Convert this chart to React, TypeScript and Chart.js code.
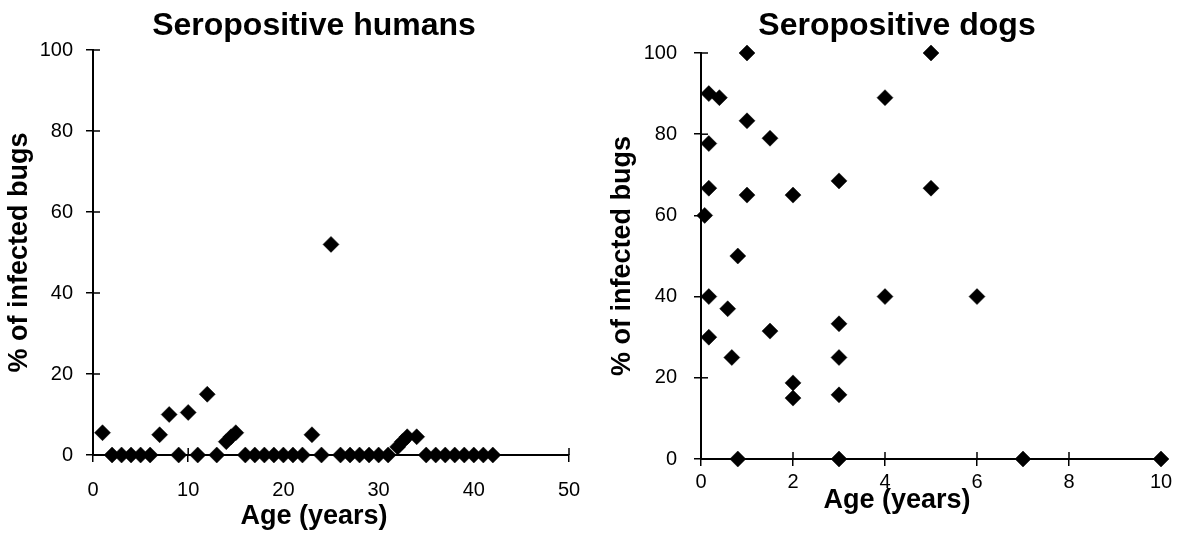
import React, { useEffect, useRef } from "react";
import { Chart, registerables } from "chart.js";

Chart.register(...registerables);

// ---- Data ----
const humanAges = [1, 2, 3, 4, 5, 6, 7, 8, 9, 10, 11, 12, 13, 14, 14.5, 15, 16, 17, 18, 19, 20, 21, 22, 23, 24, 25, 26, 27, 28, 29, 30, 31, 32, 32.5, 33, 34, 35, 36, 37, 38, 39, 40, 41, 42];
const humanPct = [5.5, 0, 0, 0, 0, 0, 5, 10, 0, 10.5, 0, 15, 0, 3.3, 4.5, 5.5, 0, 0, 0, 0, 0, 0, 0, 5, 0, 52, 0, 0, 0, 0, 0, 0, 2, 3.3, 4.5, 4.5, 0, 0, 0, 0, 0, 0, 0, 0];

const dogAges = [0.17, 0.4, 1, 5, 4, 1, 1.5, 0.17, 0.17, 1, 2, 3, 5, 0.08, 0.8, 0.17, 4, 6, 0.58, 0.17, 1.5, 3, 0.67, 3, 2, 2, 3, 0.8, 3, 7, 10];
const dogPct = [90, 89, 100, 100, 89, 83.3, 79, 77.7, 66.7, 65, 65, 68.5, 66.7, 60, 50, 40, 40, 40, 37, 30, 31.5, 33.3, 25, 25, 18.75, 15, 15.8, 0, 0, 0, 0];

const humanXTicks = [0, 10, 20, 30, 40, 50];
const dogXTicks = [0, 2, 4, 6, 8, 10];
const yTicks = [0, 20, 40, 60, 80, 100];

const FONT = '"Liberation Sans", Arial, Helvetica, sans-serif';

const innerTicks = {
  id: "innerTicks",
  afterDatasetsDraw(chart: any) {
    const { ctx, chartArea } = chart;
    ctx.save();
    ctx.strokeStyle = "#000";
    ctx.lineWidth = 1.5;
    const xs = chart.scales.x;
    xs.ticks.forEach((_: any, i: number) => {
      const px = xs.getPixelForTick(i);
      ctx.beginPath();
      ctx.moveTo(px, chartArea.bottom);
      ctx.lineTo(px, chartArea.bottom - 7);
      ctx.stroke();
    });
    const ys = chart.scales.y;
    ys.ticks.forEach((_: any, i: number) => {
      const py = ys.getPixelForTick(i);
      ctx.beginPath();
      ctx.moveTo(chartArea.left, py);
      ctx.lineTo(chartArea.left + 7, py);
      ctx.stroke();
    });
    ctx.restore();
  },
};

interface PanelProps {
  left: number;
  width: number;
  title: string;
  ages: number[];
  pct: number[];
  xTicks: number[];
  yAxisWidth: number;
  rightSpace: number;
  titlePad: { top: number; bottom: number };
  subPad: { top: number; bottom: number };
  subLineHeight: number;
  xAxisHeight: number;
  xTickPad: number;
  yTickPad: number;
  yTitlePad: number;
}

function Panel(p: PanelProps) {
  const ref = useRef<HTMLCanvasElement | null>(null);
  useEffect(() => {
    if (!ref.current) return;
    const pts = p.ages.map((a, i) => ({ x: a, y: p.pct[i] }));
    const chart = new Chart(ref.current, {
      type: "scatter",
      data: {
        datasets: [
          {
            data: pts,
            clip: false,
            pointStyle: "rectRot",
            pointRadius: 8,
            pointBackgroundColor: "#000",
            pointBorderColor: "#000",
            pointBorderWidth: 0.5,
            showLine: false,
          },
        ],
      },
      options: {
        animation: false,
        responsive: false,
        devicePixelRatio: 1,
        layout: { padding: 0 },
        plugins: {
          legend: { display: false },
          tooltip: { enabled: false },
          title: {
            display: true,
            text: p.title,
            color: "#000",
            font: { family: FONT, size: 32, weight: "bold", lineHeight: 1.2 },
            padding: p.titlePad,
          },
          subtitle: {
            display: true,
            position: "bottom",
            text: "Age (years)",
            color: "#000",
            font: { family: FONT, size: 27, weight: "bold", lineHeight: p.subLineHeight },
            padding: p.subPad,
          },
        },
        scales: {
          x: {
            type: "linear",
            min: p.xTicks[0],
            max: p.xTicks[p.xTicks.length - 1],
            afterBuildTicks: (s: any) => {
              s.ticks = p.xTicks.map((v) => ({ value: v }));
            },
            afterFit: (s: any) => {
              s.height = p.xAxisHeight;
            },
            ticks: {
              color: "#000",
              padding: p.xTickPad,
              font: { family: FONT, size: 20, lineHeight: 1 },
              maxRotation: 0,
            },
            grid: { drawOnChartArea: false, drawTicks: true, tickLength: 7, color: "#000", lineWidth: 1.5 },
            border: { display: true, color: "#000", width: 2 },
          },
          y: {
            type: "linear",
            min: 0,
            max: 100,
            afterBuildTicks: (s: any) => {
              s.ticks = yTicks.map((v) => ({ value: v }));
            },
            afterFit: (s: any) => {
              s.width = p.yAxisWidth;
            },
            title: {
              display: true,
              text: "% of infected bugs",
              color: "#000",
              font: { family: FONT, size: 27, weight: "bold", lineHeight: 1.2 },
              padding: { top: p.yTitlePad, bottom: 0 },
            },
            ticks: {
              color: "#000",
              padding: p.yTickPad,
              font: { family: FONT, size: 20, lineHeight: 1.2 },
            },
            grid: { drawOnChartArea: false, drawTicks: true, tickLength: 7, color: "#000", lineWidth: 1.5 },
            border: { display: true, color: "#000", width: 2 },
          },
          spacer: {
            type: "linear",
            position: "right",
            display: true,
            afterFit: (s: any) => {
              s.width = p.rightSpace;
            },
            ticks: { display: false },
            grid: { display: false, drawTicks: false },
            border: { display: false },
          },
        },
      },
      plugins: [innerTicks],
    } as any);
    return () => chart.destroy();
  }, []);
  return (
    <div style={{ position: "absolute", left: p.left, top: 0, width: p.width, height: 537 }}>
      <canvas ref={ref} width={p.width} height={537} style={{ display: "block" }} />
    </div>
  );
}

export default function App() {
  return (
    <div style={{ position: "absolute", left: 0, top: 0, width: 1189, height: 537, background: "#fff", overflow: "hidden" }}>
      <Panel
        left={0}
        width={628}
        title="Seropositive humans"
        ages={humanAges}
        pct={humanPct}
        xTicks={humanXTicks}
        yAxisWidth={93}
        rightSpace={59}
        titlePad={{ top: 7, bottom: 4.6 }}
        subPad={{ top: 0, bottom: 3.8 }}
        subLineHeight={1.2}
        xAxisHeight={45.8}
        xTickPad={18.5}
        yTickPad={13}
        yTitlePad={3}
      />
      <Panel
        left={605}
        width={584}
        title="Seropositive dogs"
        ages={dogAges}
        pct={dogPct}
        xTicks={dogXTicks}
        yAxisWidth={96}
        rightSpace={28}
        titlePad={{ top: 7, bottom: 7.6 }}
        subPad={{ top: 0, bottom: 25.4 }}
        subLineHeight={0.8}
        xAxisHeight={31}
        xTickPad={6.5}
        yTickPad={17}
        yTitlePad={1.4}
      />
    </div>
  );
}
